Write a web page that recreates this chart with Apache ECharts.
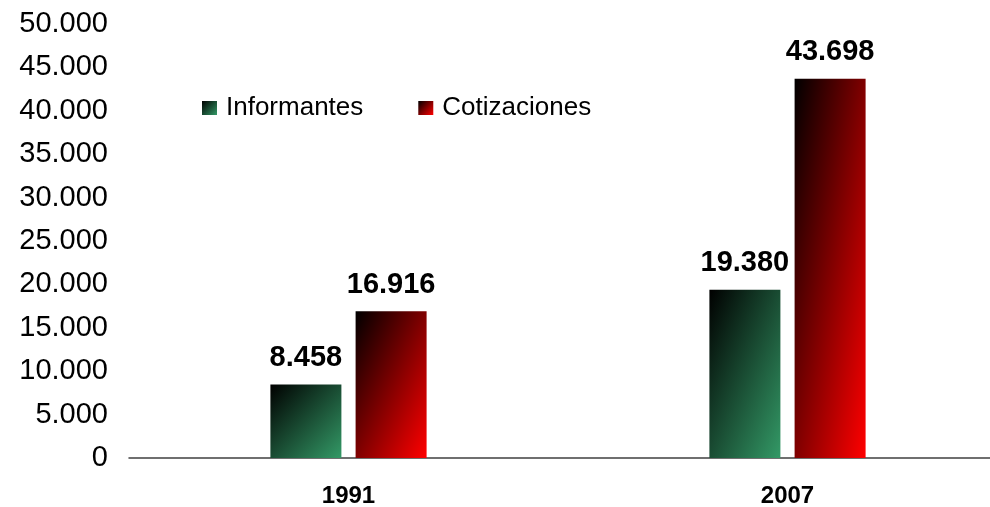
<!DOCTYPE html>
<html style="height: 507px;width: 990px;">
<head>
  <meta charset="UTF-8">
  <title>Informantes y cotizaciones</title>
  <script src="https://cdn.jsdelivr.net/npm/echarts@6/dist/echarts.min.js"></script>
</head>
<body style="margin: 0;height: 100%;width: 100%;background: #ffffff;">
  <div id="main_chart" style="width: 990px;height: 507px;"></div>
<script>
// datos del grafico
var years = ['1991', '2007'];
var informantes = [8458, 19380];
var cotizaciones = [16916, 43698];
var series_names = ['Informantes', 'Cotizaciones'];

var Y_MAX = 50000;
var PLOT_H = 434;
var BAR_W = 71;

// separador de miles con punto
function fmt_num(v){
    var s = String(Math.round(v));
    return s.replace(/\B(?=(\d{3})+(?!\d))/g, '.');
}

function diag_gradient(c0, c1, x2, y2){
    return new echarts.graphic.LinearGradient(0, 0, x2, y2, [
        {offset: 0, color: c0},
        {offset: 1, color: c1}
    ]);
}

// degradado tipo Excel: isolineas paralelas a la anti-diagonal de cada barra
function bar_items(values, c0, c1){
    return values.map(function(v){
        var h = v / Y_MAX * PLOT_H;
        var w = BAR_W;
        var d = h * h + w * w;
        return {
            value: v,
            itemStyle: { color: diag_gradient(c0, c1, 2 * h * h / d, 2 * w * w / d) }
        };
    });
}

var label_style = {
    show: true,
    position: 'top',
    distance: 12,
    fontFamily: 'Liberation Sans, Arial, sans-serif',
    fontSize: 29,
    fontWeight: 'bold',
    color: '#000000',
    formatter: function(p){ return fmt_num(p.value); }
};

var option = {
    animation: false,
    grid: {
        left: 129,
        top: 24,
        width: 878,
        height: 434,
        outerBoundsMode: 'none',
        containLabel: false
    },
    legend: {
        left: 197,
        top: 90,
        itemWidth: 15,
        itemHeight: 14,
        itemGap: 55,
        icon: 'rect',
        textStyle: {
            fontFamily: 'Liberation Sans, Arial, sans-serif',
            fontSize: 26,
            color: '#000000',
            padding: [0, 0, 0, 4]
        },
        data: series_names
    },
    xAxis: {
        type: 'category',
        data: years,
        axisLine: { lineStyle: { color: '#404040', width: 1.5 } },
        axisTick: { show: false },
        axisLabel: {
            margin: 26,
            fontFamily: 'Liberation Sans, Arial, sans-serif',
            fontSize: 24,
            fontWeight: 'bold',
            color: '#000000'
        }
    },
    yAxis: {
        type: 'value',
        min: 0,
        max: Y_MAX,
        interval: 5000,
        axisLine: { show: false },
        axisTick: { show: false },
        splitLine: { show: false },
        axisLabel: {
            margin: 21,
            fontFamily: 'Liberation Sans, Arial, sans-serif',
            fontSize: 29,
            color: '#000000',
            formatter: function(v){ return fmt_num(v); }
        }
    },
    series: [
        {
            name: series_names[0],
            type: 'bar',
            data: bar_items(informantes, '#000000', '#339966'),
            barWidth: BAR_W,
            barGap: '20%',
            itemStyle: { color: diag_gradient('#000000', '#339966', 1, 1) },
            label: label_style
        },
        {
            name: series_names[1],
            type: 'bar',
            data: bar_items(cotizaciones, '#000000', '#ff0000'),
            barWidth: BAR_W,
            barGap: '20%',
            itemStyle: { color: diag_gradient('#000000', '#ff0000', 1, 1) },
            label: label_style
        }
    ]
};

var chart = echarts.init(document.getElementById('main_chart'));
chart.setOption(option);
</script>
</body>
</html>
